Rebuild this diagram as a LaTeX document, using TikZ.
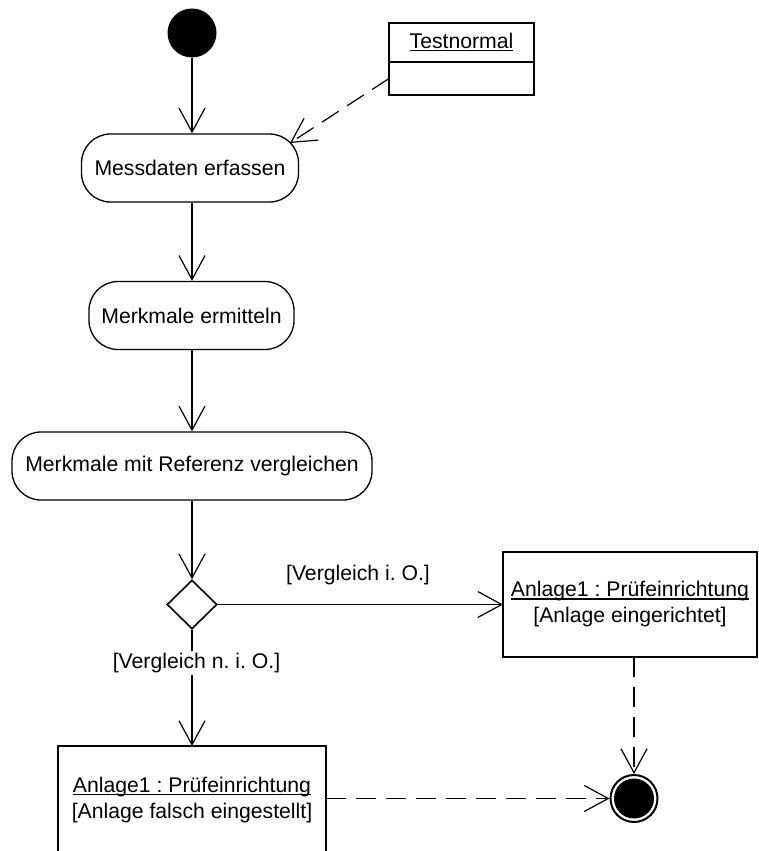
\documentclass[tikz,border=0pt]{standalone}
\usepackage{fontspec}
\setmainfont{Liberation Sans}
\usetikzlibrary{arrows.meta,shapes.geometric}

% underline set just below the baseline, crossing the descenders
\newcommand\objname[1]{\setbox0=\hbox{#1}\leavevmode\rlap{\copy0}\rule[-2.6pt]{\wd0}{1.2pt}}

\begin{document}
\frenchspacing
\begin{tikzpicture}[x=1pt,y=-1pt,
  every node/.style={font=\fontsize{21.2}{26}\selectfont},
  action/.style={draw, line width=1.3pt, rounded corners=29pt, minimum height=68pt, inner sep=0pt},
  objbox/.style={draw, line width=1.8pt, inner sep=0pt, outer sep=0pt, align=center},
  guard/.style={fill=white, inner sep=2pt},
  flow/.style={line width=1.2pt, -{Straight Barb[length=24pt,width=26pt,line width=1.2pt]}},
  dep/.style={flow, dash pattern=on 20pt off 10pt},
]
\useasboundingbox (0,0) rectangle (759,851);
\clip (0,0) rectangle (759,851);

% initial and final states
\node[circle, fill, minimum size=49pt, inner sep=0pt] (start) at (192,33) {};
\node[circle, draw, line width=2pt, minimum size=47pt, inner sep=0pt] (end) at (634,798.5) {};
\node[circle, fill, minimum size=40pt, inner sep=0pt] (endcore) at (end) {};

% actions
\node[action, minimum width=217pt] (md) at (190,168) {Messdaten erfassen};
\node[action, minimum width=205pt] (me) at (191.5,315.5) {Merkmale ermitteln};
\node[action, minimum width=360pt] (mv) at (192,466) {Merkmale mit Referenz vergleichen};

% decision
\node[draw, diamond, line width=1.6pt, minimum width=50pt, minimum height=49pt, inner sep=0pt] (dec) at (192,604.5) {};

% object Testnormal
\node[objbox, minimum width=145pt, minimum height=39pt, anchor=north west] (tn) at (389,23) {\objname{Testnormal}};
\node[objbox, minimum width=145pt, minimum height=33pt, anchor=north] (tnb) at (tn.south) {};
\coordinate (mdin) at (290,143);

% object states
\node[objbox, minimum width=254pt, minimum height=105pt] (ok) at (630,604.5)
  {\objname{Anlage1 : Prüfeinrichtung}\\{[Anlage eingerichtet]}};
\node[objbox, minimum width=268pt, minimum height=108pt] (nok) at (192,800)
  {\objname{Anlage1 : Prüfeinrichtung}\\{[Anlage falsch eingestellt]}};

% control flow
\draw[flow] (start.south) -- (start.south |- md.north);
\draw[flow] (md.south -| start) -- (me.north -| start);
\draw[flow] (me.south -| start) -- (mv.north -| start);
\draw[flow] (mv.south -| start) -- (dec.north);
\draw[flow] (dec.east) -- (ok.west);
\draw[flow] (dec.south) -- (nok.north);

% guards
\node[guard] (gok) at (358,575) {[Vergleich i. O.]};
\node[guard] (gnok) at (196.5,663) {[Vergleich n. i. O.]};

% object flow
\draw[dep] (tnb.west) -- (mdin);
\draw[dep] (ok.south -| end) -- (end.north);
\draw[dep] (nok.east |- end) -- (end.west);
\end{tikzpicture}
\end{document}
